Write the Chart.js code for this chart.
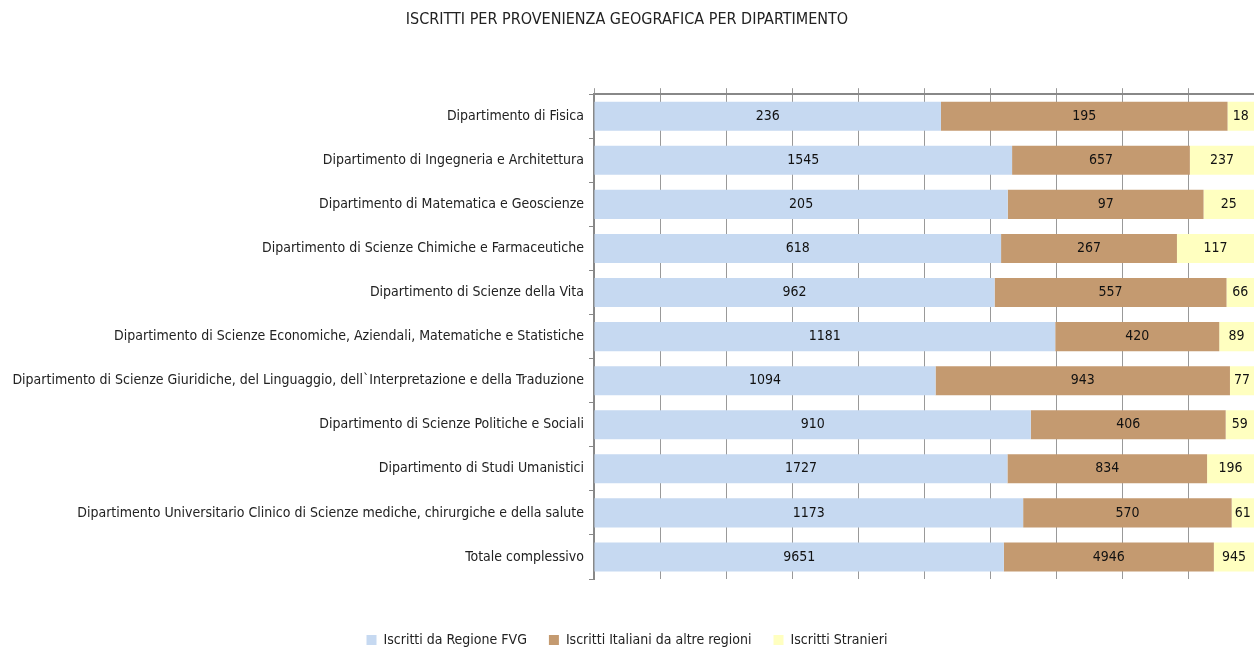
<!DOCTYPE html>
<html>
<head>
<meta charset="utf-8">
<script src="https://cdn.jsdelivr.net/npm/chart.js@4"></script>
<style>
  html, body { margin: 0; padding: 0; background: #fff; }
  #wrap { width: 1254px; height: 650px; }
</style>
</head>
<body>
<div id="wrap"><canvas id="chartIscritti" width="1254" height="650"></canvas></div>
<script>
// dati
const dipartimenti = [
  'Dipartimento di Fisica',
  'Dipartimento di Ingegneria e Architettura',
  'Dipartimento di Matematica e Geoscienze',
  'Dipartimento di Scienze Chimiche e Farmaceutiche',
  'Dipartimento di Scienze della Vita',
  'Dipartimento di Scienze Economiche, Aziendali, Matematiche e Statistiche',
  "Dipartimento di Scienze Giuridiche, del Linguaggio, dell`Interpretazione e della Traduzione",
  'Dipartimento di Scienze Politiche e Sociali',
  'Dipartimento di Studi Umanistici',
  'Dipartimento Universitario Clinico di Scienze mediche, chirurgiche e della salute',
  'Totale complessivo'
];
const regioneFVG   = [236, 1545, 205, 618, 962, 1181, 1094, 910, 1727, 1173, 9651];
const altreRegioni = [195, 657, 97, 267, 557, 420, 943, 406, 834, 570, 4946];
const stranieri    = [18, 237, 25, 117, 66, 89, 77, 59, 196, 61, 945];
const xTicks = [0, 10, 20, 30, 40, 50, 60, 70, 80, 90, 100];

const FONT = "'Liberation Sans Narrow', 'DejaVu Sans Condensed', 'Arial Narrow', sans-serif";

// percentuali per barre al 100%
const totali = regioneFVG.map((v, i) => v + altreRegioni[i] + stranieri[i]);
const perc = arr => arr.map((v, i) => v / totali[i] * 100);

// etichette con i valori assoluti al centro di ogni segmento
const etichette = {
  id: 'etichette',
  afterDatasetsDraw(chart) {
    const ctx = chart.ctx;
    ctx.save();
    ctx.font = '14px ' + FONT;
    ctx.fillStyle = '#111';
    ctx.textAlign = 'center';
    ctx.textBaseline = 'middle';
    chart.data.datasets.forEach((ds, d) => {
      chart.getDatasetMeta(d).data.forEach((bar, i) => {
        ctx.fillText(String(ds.raw[i]), (bar.x + bar.base) / 2, bar.y);
      });
    });
    ctx.restore();
  }
};

new Chart(document.getElementById('chartIscritti').getContext('2d'), {
  type: 'bar',
  data: {
    labels: dipartimenti,
    datasets: [
      { label: 'Iscritti da Regione FVG', data: perc(regioneFVG), raw: regioneFVG, backgroundColor: '#c6d9f1' },
      { label: 'Iscritti Italiani da altre regioni', data: perc(altreRegioni), raw: altreRegioni, backgroundColor: '#c49a70' },
      { label: 'Iscritti Stranieri', data: perc(stranieri), raw: stranieri, backgroundColor: '#ffffc0' }
    ]
  },
  options: {
    indexAxis: 'y',
    responsive: false,
    animation: false,
    layout: { padding: { top: 0, right: 0, bottom: -7, left: 0 } },
    datasets: { bar: { categoryPercentage: 0.66, barPercentage: 1 } },
    plugins: {
      title: {
        display: true,
        text: 'ISCRITTI PER PROVENIENZA GEOGRAFICA PER DIPARTIMENTO',
        color: '#222',
        font: { family: FONT, size: 16, weight: 'normal' },
        padding: { top: 10, bottom: 10 }
      },
      legend: {
        position: 'bottom',
        labels: {
          color: '#222',
          font: { family: FONT, size: 14 },
          boxWidth: 10,
          boxHeight: 10,
          padding: 22
        }
      },
      tooltip: { enabled: false }
    },
    scales: {
      x: {
        position: 'top',
        stacked: true,
        min: 0,
        max: 100,
        afterBuildTicks: s => { s.ticks = xTicks.map(v => ({ value: v })); },
        ticks: { display: false },
        grid: { color: '#999', lineWidth: 1, tickLength: 6 },
        border: { color: '#888', width: 2 },
        afterFit: s => { s.height = 55; }
      },
      // spazio vuoto tra grafico e legenda
      spazio: {
        axis: 'x',
        position: 'bottom',
        type: 'linear',
        ticks: { display: false },
        grid: { display: false },
        border: { display: false },
        afterFit: s => { s.height = 32; }
      },
      y: {
        stacked: true,
        ticks: { color: '#222', font: { family: FONT, size: 14 }, padding: 5, autoSkip: false },
        grid: { offset: true, drawOnChartArea: false, tickLength: 5, color: '#888' },
        border: { color: '#888', width: 2 },
        afterFit: s => { s.width = 594; }
      }
    }
  },
  plugins: [etichette]
});
</script>
</body>
</html>
